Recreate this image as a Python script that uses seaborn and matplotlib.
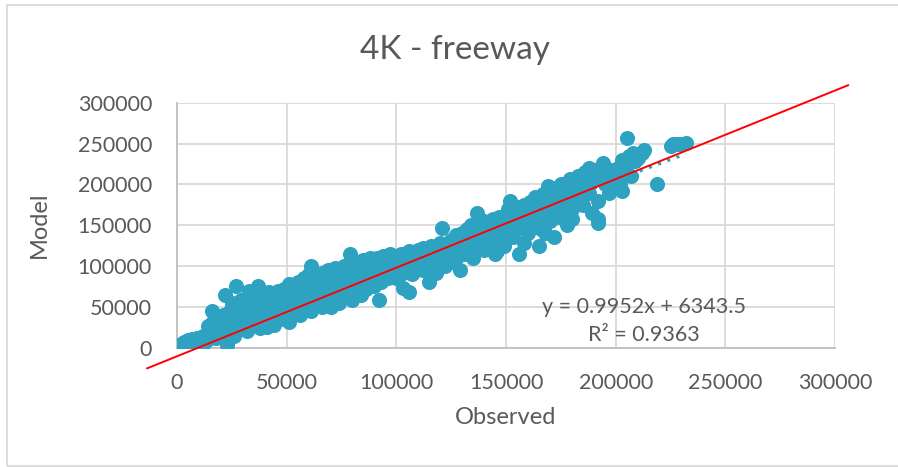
import numpy as np
import pandas as pd
import matplotlib
matplotlib.use("Agg")
import matplotlib.pyplot as plt
from matplotlib.patches import Rectangle
import seaborn as sns

# Observed vs. model volumes (thousands of vehicles)
observed_k = [
    2, 3, 4, 5, 6, 7, 8, 9, 4, 8,
    11, 12, 12, 13, 14, 15, 15, 16, 16, 17, 18, 18, 19, 19, 14,
    20, 21, 21, 22, 22, 23, 23, 24, 24, 25, 25, 26, 27, 27, 28, 28, 29, 29, 26, 23,
    30, 30, 31, 31, 32, 32, 33, 34, 34, 35, 35, 36, 37, 37, 38, 38, 39, 39, 33, 36,
    40, 40, 41, 42, 42, 43, 44, 44, 45, 46, 46, 47, 48, 48, 49, 49, 50, 41,
    50, 51, 51, 52, 53, 53, 54, 55, 55, 56, 56, 57, 58, 58, 59, 59, 60, 60,
    61, 61, 62, 62, 63, 63, 64, 65, 65, 66, 66, 67, 68, 68, 69, 69, 70, 70,
    71, 71, 72, 72, 73, 74, 74, 75, 75, 76, 76, 77, 78, 78, 79, 79, 80, 80,
    81, 81, 82, 82, 83, 84, 84, 85, 85, 86, 86, 87, 88, 88, 89, 89, 90, 90,
    91, 92, 92, 93, 93, 94, 95, 95, 96, 97, 97, 98, 99, 99, 100, 100,
    101, 102, 103, 103, 104, 105, 106, 106, 107, 108, 108, 109, 110, 110,
    111, 112, 112, 113, 114, 115, 115, 116, 117, 118, 118, 119, 120, 120,
    121, 121, 122, 123, 124, 125, 125, 126, 127, 127, 128, 129, 129, 130, 130,
    131, 132, 132, 133, 134, 135, 135, 136, 137, 137, 138, 139, 140, 140,
    141, 142, 143, 144, 145, 145, 146, 147, 147, 148, 149, 150, 150,
    151, 152, 152, 153, 154, 155, 156, 156, 157, 158, 158, 159, 160, 160,
    161, 162, 163, 164, 165, 165, 166, 167, 167, 168, 169, 169, 170, 170,
    171, 172, 172, 173, 174, 175, 176, 177, 178, 179, 180, 180, 178,
    181, 182, 183, 184, 185, 186, 187, 188, 188, 189, 190,
    191, 192, 192, 192, 193, 194, 195, 196, 197, 198, 199, 200,
    201, 202, 203, 203, 204, 205, 205, 206, 207, 208, 209,
    210, 212, 213, 219, 225, 228, 230, 232, 226,
]
model_k = [
    4, 7, 5, 9, 6, 11, 8, 12, 2, 4,
    10, 4, 14, 8, 17, 12, 22, 45, 30, 18, 25, 12, 36, 20, 26,
    15, 28, 40, 64, 22, 3, 33, 18, 45, 28, 55, 38, 76, 22, 48, 30, 35, 58, 14, 10,
    25, 42, 60, 33, 50, 20, 38, 66, 28, 45, 55, 32, 76, 40, 50, 24, 62, 35, 70, 60,
    45, 30, 56, 68, 38, 50, 28, 62, 44, 55, 70, 35, 60, 48, 72, 40, 52, 25,
    65, 32, 78, 58, 45, 70, 62, 80, 50, 40, 68, 58, 85, 48, 72, 62, 55, 90,
    100, 45, 75, 65, 88, 55, 70, 80, 60, 92, 50, 72, 85, 65, 95, 58, 50, 78,
    88, 68, 98, 60, 76, 90, 55, 82, 70, 100, 62, 85, 75, 95, 115, 66, 88, 58,
    78, 100, 92, 70, 105, 85, 65, 96, 108, 80, 72, 100, 90, 110, 82, 104, 95, 75,
    110, 59, 88, 100, 80, 112, 92, 105, 85, 100, 115, 90, 108, 96, 112, 85,
    100, 115, 73, 92, 108, 98, 68, 118, 90, 105, 112, 95, 100, 120,
    110, 95, 122, 105, 115, 80, 100, 125, 108, 118, 92, 112, 105, 128,
    147, 115, 100, 125, 110, 132, 118, 105, 138, 122, 112, 95, 130, 125, 140,
    115, 135, 145, 122, 150, 130, 110, 140, 165, 125, 148, 135, 120, 155,
    140, 150, 130, 158, 115, 145, 119, 160, 135, 150, 125, 160, 140,
    170, 180, 150, 135, 165, 145, 115, 172, 155, 128, 175, 160, 140, 168,
    178, 150, 185, 160, 125, 175, 145, 188, 160, 140, 198, 170, 155, 185,
    195, 135, 175, 190, 160, 200, 180, 165, 195, 207, 170, 158, 150,
    200, 185, 210, 195, 175, 215, 200, 220, 190, 165, 205,
    210, 180, 158, 153, 220, 226, 200, 215, 190, 218, 205, 212,
    220, 200, 192, 230, 215, 257, 225, 235, 210, 238, 228,
    232, 238, 242, 201, 247, 250, 250, 251, 249,
]

observed = np.array(observed_k, dtype=float) * 1000
model = np.array(model_k, dtype=float) * 1000

# Linear trendline reported on the chart
trend_slope, trend_intercept = 0.9952, 6343.5
r_squared = 0.9363

# Hand-drawn reference line (extends past the plot area)
ref_slope, ref_intercept = 1.0847, -10500.0
ref_x_range = [-13700.0, 306100.0]

ticks = [0, 50000, 100000, 150000, 200000, 250000, 300000]

point_color = "#2EA3C1"
text_color = "#595959"
grid_color = "#D9D9D9"

sns.set_style("white")
plt.rcParams["font.family"] = ["Lato", "DejaVu Sans"]

fig = plt.figure(figsize=(8.98, 4.67), dpi=100)
ax = fig.add_axes([177 / 898, 1 - 347.7 / 467, (835 - 177) / 898, (347.7 - 102.7) / 467])

df = pd.DataFrame({"Observed": observed, "Model": model})
sns.scatterplot(data=df, x="Observed", y="Model", ax=ax, color=point_color,
                s=118, linewidth=0, alpha=1.0, zorder=3, legend=False)

# Dotted linear trendline over the observed range
tx = np.array([observed.min(), observed.max()])
ax.plot(tx, trend_slope * tx + trend_intercept, linestyle=(0, (1, 2.2)),
        color=point_color, linewidth=2.2, zorder=4)

# Red reference line
rx = np.array(ref_x_range)
ax.plot(rx, ref_slope * rx + ref_intercept, color="#FF0000", linewidth=1.4,
        zorder=5, clip_on=False)

ax.set_xlim(0, 300000)
ax.set_ylim(0, 300000)
ax.set_xticks(ticks)
ax.set_yticks(ticks)
ax.set_xticklabels([str(t) for t in ticks])
ax.set_yticklabels([str(t) for t in ticks])
ax.grid(True, color=grid_color, linewidth=1.3, zorder=0)
ax.set_axisbelow(True)
for name, sp in ax.spines.items():
    if name in ("left", "bottom"):
        sp.set_color("#BFBFBF")
        sp.set_linewidth(1.3)
    else:
        sp.set_visible(False)
ax.tick_params(axis="x", length=0, labelsize=15.5, labelcolor=text_color, pad=18)
ax.tick_params(axis="y", length=0, labelsize=15.5, labelcolor=text_color, pad=18)

ax.set_xlabel("Observed", fontsize=17, color=text_color, labelpad=10)
ax.set_ylabel("Model", fontsize=17, color=text_color, labelpad=20)

fig.text(455 / 898, 1 - 50 / 467, "4K - freeway", ha="center", va="center",
         fontsize=24, color=text_color, fontweight="normal")

ax.text(213000, 49500, f"y = {trend_slope}x + {trend_intercept}", ha="center",
        va="center", fontsize=15.5, color=text_color, zorder=6)
ax.text(213000, 15500, f"R² = {r_squared}", ha="center", va="center",
        fontsize=15.5, color=text_color, zorder=6)

# Chart area border
fig.patches.append(Rectangle((7 / 898, 1 / 467), 1.0, 1 - 6 / 467,
                             transform=fig.transFigure, fill=False,
                             edgecolor="#D9D9D9", linewidth=1.3))

fig.savefig("out.png", dpi=100)
